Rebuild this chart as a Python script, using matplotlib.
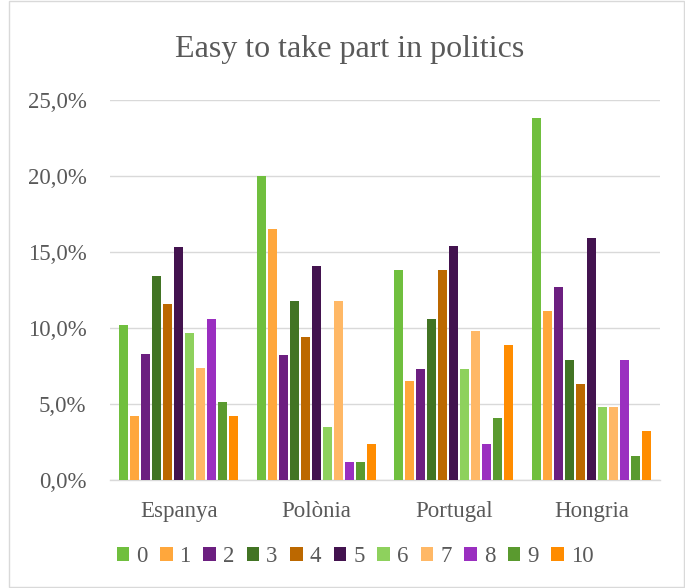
import matplotlib
matplotlib.use("Agg")
import matplotlib.pyplot as plt
import numpy as np
from matplotlib.ticker import FuncFormatter
from matplotlib.patches import Rectangle

# data
countries = ["Espanya", "Polònia", "Portugal", "Hongria"]
levels = ["0", "1", "2", "3", "4", "5", "6", "7", "8", "9", "10"]

espanya = [10.2, 4.2, 8.3, 13.4, 11.6, 15.3, 9.7, 7.4, 10.6, 5.1, 4.2]
polonia = [20.0, 16.5, 8.2, 11.8, 9.4, 14.1, 3.5, 11.8, 1.2, 1.2, 2.4]
portugal = [13.8, 6.5, 7.3, 10.6, 13.8, 15.4, 7.3, 9.8, 2.4, 4.1, 8.9]
hongria = [23.8, 11.1, 12.7, 7.9, 6.3, 15.9, 4.8, 4.8, 7.9, 1.6, 3.2]

colors = ["#70bf3e", "#ffa73c", "#6c1f80", "#427424", "#bc6800", "#43134f",
          "#8ed15d", "#ffb866", "#9a2fc0", "#5a9a2f", "#ff8c00"]

plt.rcParams["font.family"] = ["Liberation Serif", "DejaVu Serif"]

values = np.array([espanya, polonia, portugal, hongria])

fig = plt.figure(figsize=(6.85, 5.88), dpi=100)
ax = fig.add_axes([110 / 685, 108 / 588, 550 / 685, 380 / 588])

x = np.arange(len(countries))
step = 0.08
width = 0.062
for i, level in enumerate(levels):
    ax.bar(x + (i - 5) * step, values[:, i], width=width,
           color=colors[i], label=level, zorder=3)

ax.set_xlim(-0.5, len(countries) - 0.5)
ax.set_ylim(0, 25)
ax.set_yticks(np.arange(0, 26, 5))
ax.yaxis.set_major_formatter(FuncFormatter(lambda v, p: f"{v:.1f}%".replace(".", ",")))
ax.set_xticks(x)
ax.set_xticklabels(countries)

ax.grid(axis="y", color="#d9d9d9", linewidth=1, zorder=0)
for s in ["left", "right", "top"]:
    ax.spines[s].set_visible(False)
ax.spines["bottom"].set_color("#d9d9d9")
ax.spines["bottom"].set_linewidth(1)
ax.tick_params(axis="both", length=0, labelsize=16.5, colors="#595959")
ax.tick_params(axis="y", pad=17)
ax.tick_params(axis="x", pad=15)

fig.text(350 / 685, 1 - 50 / 588, "Easy to take part in politics",
         ha="center", va="center", fontsize=23, color="#595959")

fig.legend(loc="center", bbox_to_anchor=(355 / 685, 1 - 557 / 588), ncol=11,
           frameon=False, fontsize=16.5, handlelength=0.55, handleheight=0.55,
           handletextpad=0.3, columnspacing=0.55, labelcolor="#595959")

fig.patches.append(Rectangle((9 / 685, 0.002), 1 - 10 / 685, 0.996, transform=fig.transFigure,
                             fill=False, edgecolor="#d9d9d9", linewidth=1))

fig.savefig("out.png", dpi=100)
